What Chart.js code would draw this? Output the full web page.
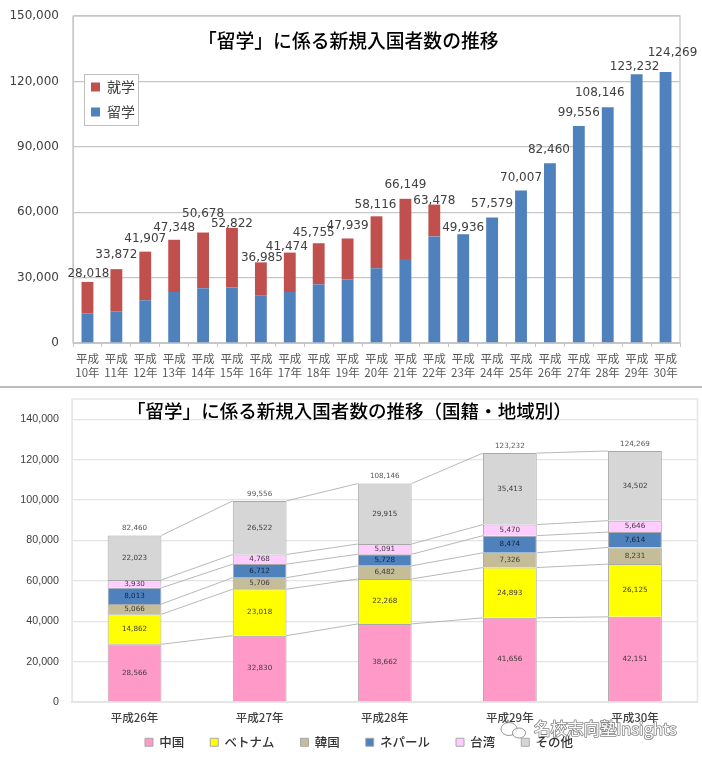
<!DOCTYPE html>
<html lang="ja"><head><meta charset="utf-8">
<script src="https://cdn.jsdelivr.net/npm/chart.js@4"></script>
<style>
html,body{margin:0;padding:0;background:#fff;width:702px;height:761px;overflow:hidden}
canvas{position:absolute;left:0;filter:blur(0.45px)}
#a{top:0}#b{top:388px}
#rule{position:absolute;left:0;top:386px;width:702px;height:2px;background:#bdbdbd}
</style></head><body>
<canvas id="a" width="702" height="386"></canvas>
<div id="rule"></div>
<canvas id="b" width="702" height="373"></canvas>
<script>
// ---------- top chart data ----------
const yearLabels = ["10年","11年","12年","13年","14年","15年","16年","17年","18年","19年","20年","21年","22年","23年","24年","25年","26年","27年","28年","29年","30年"];
const ryugaku = [13500,14400,19600,23400,25100,25500,21700,23400,26900,29100,34300,38100,48900,49936,57579,70007,82460,99556,108146,123232,124269];
const shugaku = [14518,19472,22307,23948,25578,27322,15285,18074,18855,18839,23816,28049,14578,0,0,0,0,0,0,0,0];
const topTotals = [28018,33872,41907,47348,50678,52822,36985,41474,45755,47939,58116,66149,63478,49936,57579,70007,82460,99556,108146,123232,124269];
const topTicks = [0,30000,60000,90000,120000,150000];
const topTitle = "「留学」に係る新規入国者数の推移";
// ---------- bottom chart data ----------
const nenLabels = ["平成26年","平成27年","平成28年","平成29年","平成30年"];
const china = [28566,32830,38662,41656,42151];
const vietnam = [14862,23018,22268,24893,26125];
const korea = [5066,5706,6482,7326,8231];
const nepal = [8013,6712,5728,8474,7614];
const taiwan = [3930,4768,5091,5470,5646];
const others = [22023,26522,29915,35413,34502];
const bottomTotals = [82460,99556,108146,123232,124269];
const bottomTicks = [0,20000,40000,60000,80000,100000,120000,140000];
const bottomTitle = "「留学」に係る新規入国者数の推移（国籍・地域別）";
const watermark = "名校志向塾Insights";

// label placement (style, not data)
const nudgeX = [1,0,0,0,0,0,1,-3,-5,0,-1,0,0,0,0,0,-1,0,-8,-2,7];
const nudgeY = [8,14,13,12,19,4,4,6,10,13,11,14,4,6,14,13,13,13,14,7,19];
const fmt = v => v.toLocaleString("en-US");
const JP = '"Noto Sans CJK JP"';

const topPlugin = {
  id:"topDeco",
  afterLayout(c){
    const l=c.legend;
    l.left=80;l.right=150;l.top=69;l.bottom=130;
    if(!l._framed){
      const d=l.draw;
      l.draw=function(){
        const x=c.ctx;x.save();x.fillStyle="#fff";x.strokeStyle="#bfbfbf";x.lineWidth=1;
        x.fillRect(84.5,74.5,54,51);x.strokeRect(84.5,74.5,54,51);x.restore();
        d.call(this);
      };
      l._framed=true;
    }
  },
  beforeDatasetsDraw(c){
    const x=c.ctx,a=c.chartArea;
    x.save();x.strokeStyle="#c6c6c6";x.lineWidth=1.3;
    x.strokeRect(a.left,a.top,a.right-a.left,a.bottom-a.top);x.restore();
  },
  afterDraw(c){
    const x=c.ctx,m=c.getDatasetMeta(0);
    x.save();
    x.font='12px "DejaVu Sans"';x.fillStyle="#404040";x.textAlign="center";x.textBaseline="middle";
    topTotals.forEach((t,i)=>{
      const yTop=c.scales.y.getPixelForValue(t);
      x.fillText(fmt(t),m.data[i].x+nudgeX[i],yTop-nudgeY[i]);
    });
    x.font='500 18.8px '+JP;x.fillStyle="#000";x.textAlign="left";
    x.fillText(topTitle,198,41);
    x.restore();
  }
};

new Chart(document.getElementById("a"),{
  type:"bar",
  data:{labels:yearLabels.map(y=>["平成",y]),datasets:[
    {label:"留学",data:ryugaku,backgroundColor:"#4f81bd",stack:"s"},
    {label:"就学",data:shugaku,backgroundColor:"#c0504d",stack:"s"}
  ]},
  plugins:[topPlugin],
  options:{
    responsive:false,animation:false,
    layout:{padding:{top:16,right:22,left:0,bottom:0}},
    datasets:{bar:{categoryPercentage:1,barPercentage:0.41}},
    plugins:{
      title:{display:false},tooltip:{enabled:false},
      legend:{position:"chartArea",align:"start",reverse:true,
        labels:{boxWidth:9,boxHeight:9,padding:11,color:"#404040",font:{family:JP,size:14}}}
    },
    scales:{
      x:{stacked:true,
        grid:{offset:true,drawOnChartArea:false,tickLength:4,color:"#c6c6c6"},
        border:{color:"#c6c6c6"},
        ticks:{color:"#595959",font:{family:JP,size:11.5,lineHeight:1.22},padding:5,autoSkip:false,maxRotation:0},
        afterFit(s){s.height=43;s.paddingLeft=0;s.paddingRight=0}},
      y:{stacked:true,min:0,max:150000,
        afterBuildTicks(s){s.ticks=topTicks.map(value=>({value}))},
        grid:{color:"#c6c6c6",lineWidth:1.3,drawTicks:false},
        border:{color:"#c6c6c6"},
        ticks:{color:"#404040",font:{family:'"DejaVu Sans"',size:12},padding:14,callback:v=>fmt(v)},
        afterFit(s){s.width=73;s.paddingTop=0;s.paddingBottom=0}}
    }
  }
});

const bottomPlugin = {
  id:"bottomDeco",
  beforeLayout(c){
    const l=c.legend;
    if(!l._patched){const f=l.fit;l.fit=function(){f.call(this);this.height=0};l._patched=true;}
  },
  afterLayout(c){
    const l=c.legend;
    l.left=8;l.right=710;l.top=322;l.bottom=373;
  },
  beforeDatasetsDraw(c){
    const x=c.ctx,a=c.chartArea;
    x.save();x.strokeStyle="#e6e6e6";x.lineWidth=1.5;
    x.strokeRect(a.left,a.top,a.right-a.left,a.bottom-a.top);
    x.restore();
  },
  afterDatasetsDraw(c){
    const x=c.ctx;
    x.save();
    x.strokeStyle="#a6a6a6";x.lineWidth=0.8;
    c.data.datasets.forEach((d,k)=>{
      const els=c.getDatasetMeta(k).data;
      for(let i=0;i+1<els.length;i++){
        x.beginPath();
        x.moveTo(els[i].x+els[i].width/2,els[i].y);
        x.lineTo(els[i+1].x-els[i+1].width/2,els[i+1].y);
        x.stroke();
      }
    });
    x.textAlign="center";x.textBaseline="middle";
    c.data.datasets.forEach((d,k)=>{
      const els=c.getDatasetMeta(k).data;
      x.font='7.2px "DejaVu Sans"';x.fillStyle=k===3?"#10233c":"#3c3c3c";
      els.forEach((e,i)=>x.fillText(fmt(d.data[i]),e.x,(e.y+e.base)/2));
    });
    x.fillStyle="#595959";
    const top=c.getDatasetMeta(5).data;
    bottomTotals.forEach((t,i)=>x.fillText(fmt(t),top[i].x,c.scales.y.getPixelForValue(t)-7));
    x.fillStyle="#fff";x.fillRect(127,12,446,18);
    x.fillStyle="#000";x.textAlign="left";x.font='500 18.55px '+JP;
    x.fillText(bottomTitle,127,23);
    x.restore();
  },
  afterDraw(c){
    const x=c.ctx;
    x.save();
    x.textAlign="left";x.textBaseline="middle";
    x.font='16.5px '+JP;
    x.lineWidth=1.6;x.strokeStyle="rgba(90,90,90,.75)";x.lineJoin="round";
    x.strokeText(watermark,534,341);
    x.fillStyle="#fff";x.fillText(watermark,534,341);
    x.strokeStyle="rgba(110,110,110,.8)";x.lineWidth=0.9;x.fillStyle="rgba(255,255,255,.8)";
    [[509,341,8,6.5],[519,345,6.5,5]].forEach(p=>{x.beginPath();x.ellipse(p[0],p[1],p[2],p[3],0,0,7);x.fill();x.stroke();});
    x.restore();
  }
};

const barBorder={borderColor:"#a8a8a8",borderWidth:1};
new Chart(document.getElementById("b"),{
  type:"bar",
  data:{labels:nenLabels,datasets:[
    {label:"中国",data:china,backgroundColor:"#ff99c8",...barBorder},
    {label:"ベトナム",data:vietnam,backgroundColor:"#ffff00",...barBorder},
    {label:"韓国",data:korea,backgroundColor:"#c4bd97",...barBorder},
    {label:"ネパール",data:nepal,backgroundColor:"#4f81bd",...barBorder},
    {label:"台湾",data:taiwan,backgroundColor:"#ffccff",...barBorder},
    {label:"その他",data:others,backgroundColor:"#d6d6d6",...barBorder}
  ]},
  plugins:[bottomPlugin],
  options:{
    responsive:false,animation:false,
    layout:{padding:{top:11,right:4.5,left:0,bottom:0}},
    datasets:{bar:{categoryPercentage:1,barPercentage:0.43}},
    plugins:{
      title:{display:false},tooltip:{enabled:false},
      legend:{position:"bottom",align:"center",
        labels:{boxWidth:8,boxHeight:8,padding:26,color:"#333",font:{family:JP,size:12.5,weight:500}}}
    },
    scales:{
      x:{stacked:true,
        grid:{display:false,drawTicks:false},
        border:{color:"#dedede",width:1.5},
        ticks:{color:"#404040",font:{family:JP,size:11.5,weight:500},padding:9,autoSkip:false,maxRotation:0},
        afterFit(s){s.height=59;s.paddingLeft=0;s.paddingRight=0}},
      y:{stacked:true,min:0,max:150000,
        afterBuildTicks(s){s.ticks=bottomTicks.map(value=>({value}))},
        grid:{color:"#e4e4e4",lineWidth:1.3,drawTicks:false},
        border:{color:"#e4e4e4"},
        ticks:{color:"#404040",font:{family:'"Liberation Sans"',size:10.7},padding:13,callback:v=>fmt(v)},
        afterFit(s){s.width=72;s.paddingTop=0;s.paddingBottom=0}}
    }
  }
});
</script>
</body></html>
